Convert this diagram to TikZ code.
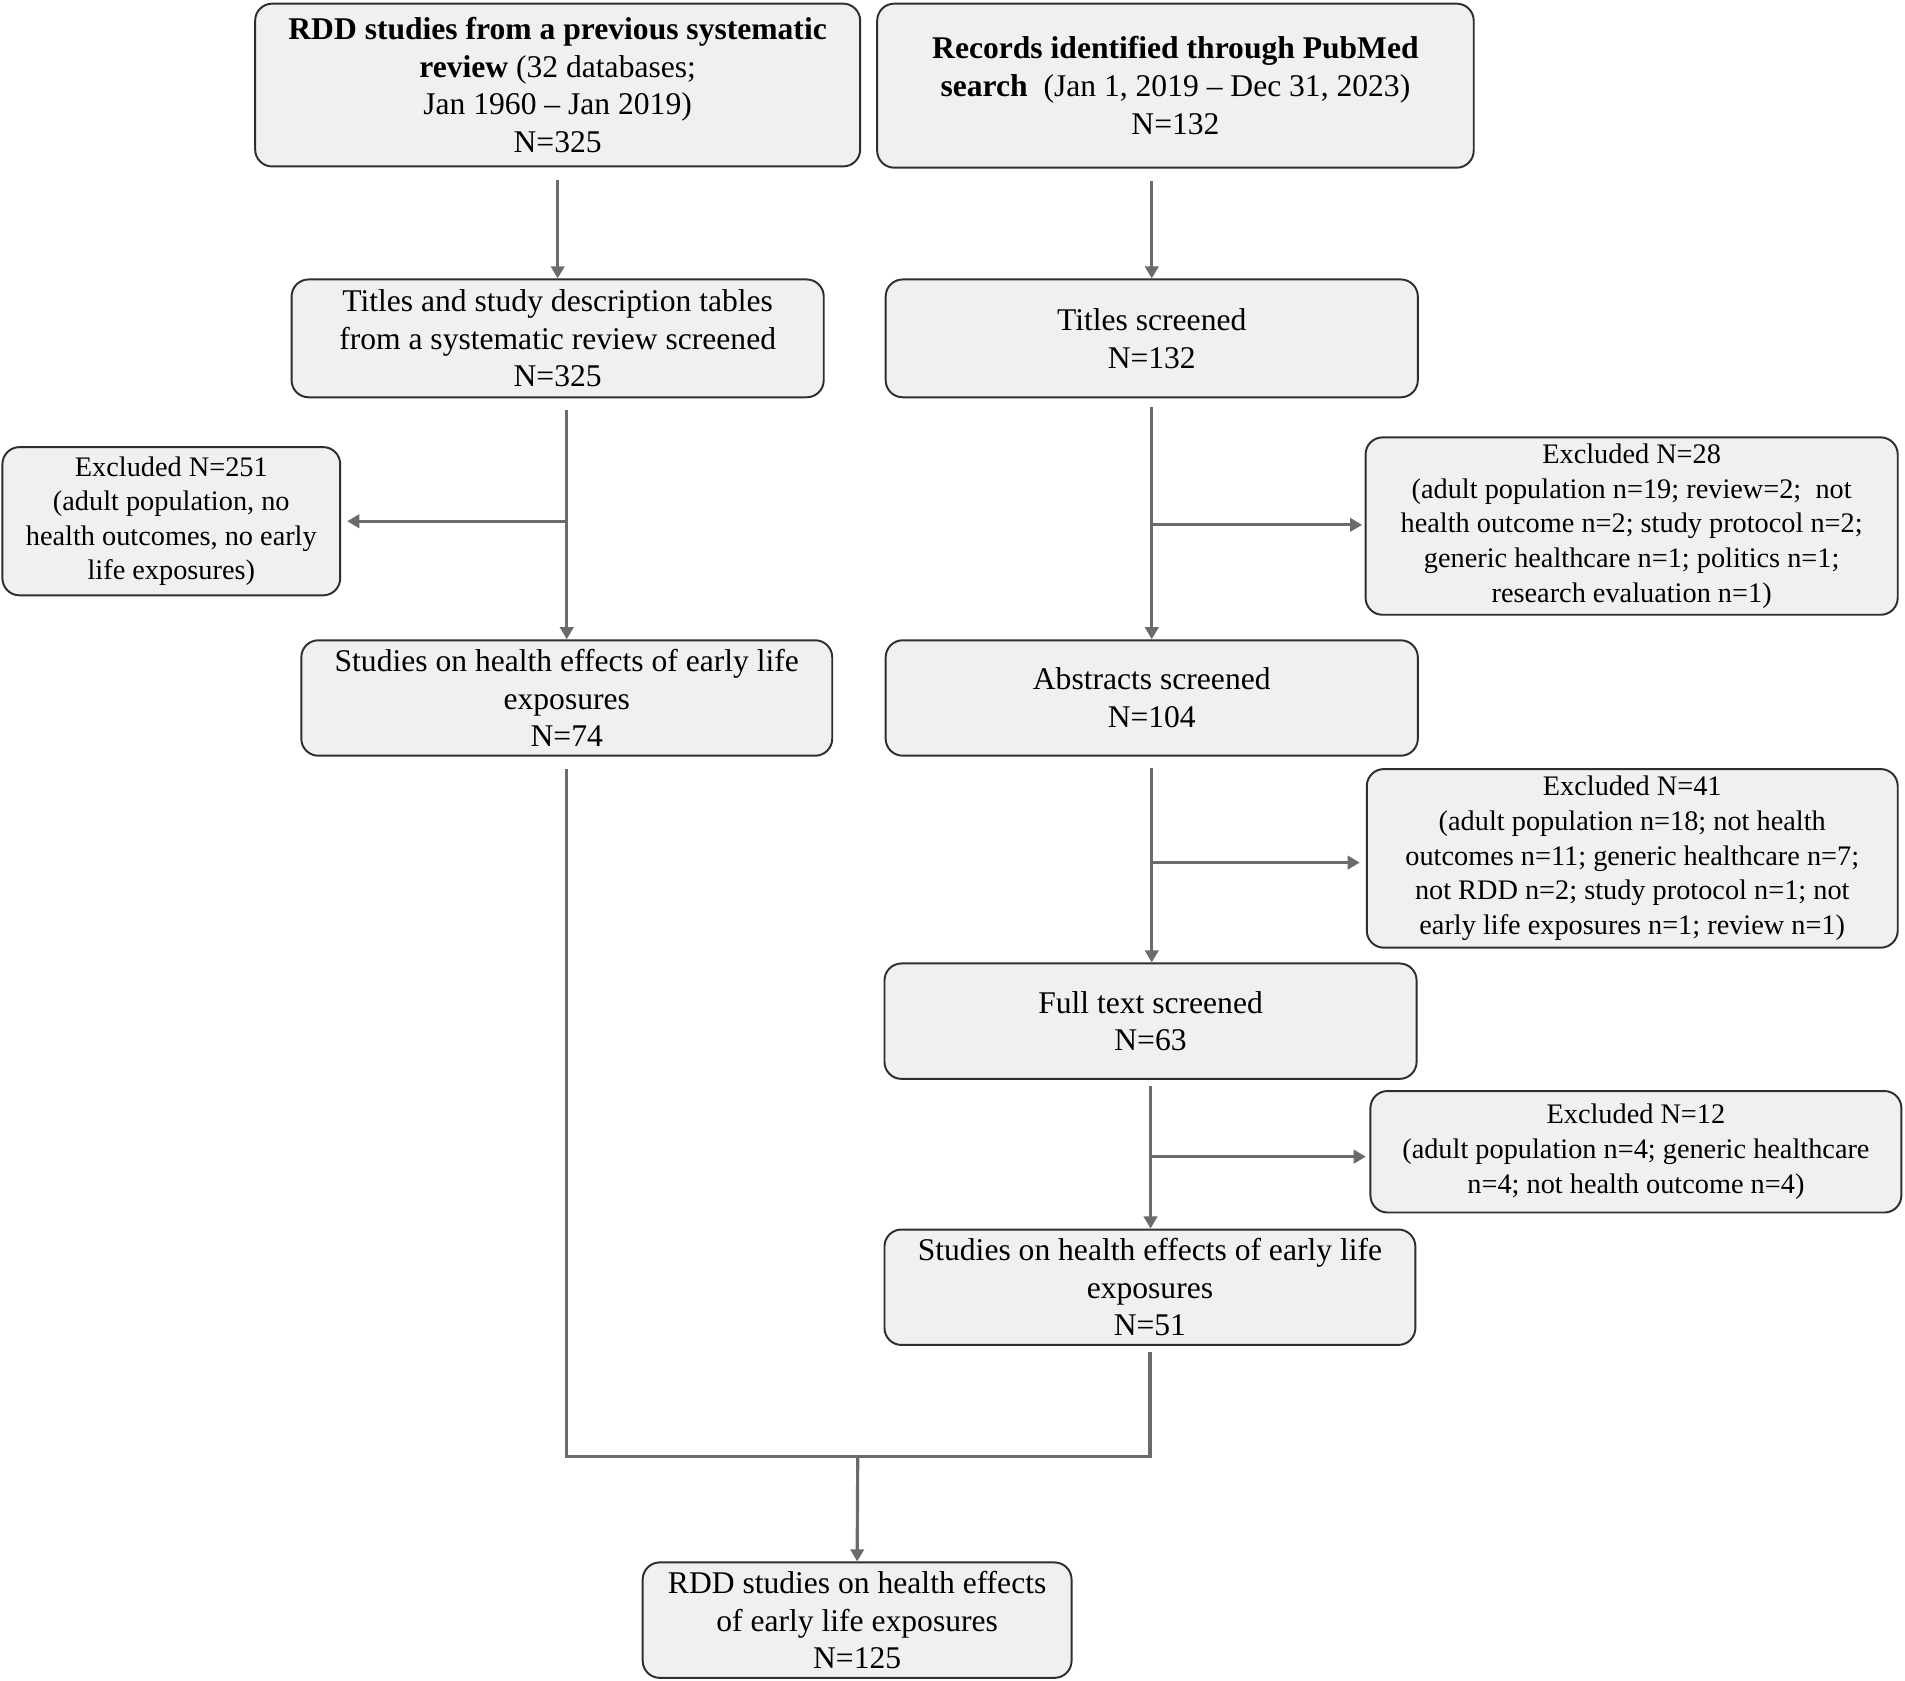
\documentclass[tikz,border=0pt]{standalone}
\usepackage{fontspec}
\setmainfont{Liberation Serif}
\usetikzlibrary{arrows.meta,calc}
\begin{document}
\begin{tikzpicture}[x=0.5pt,y=-0.5pt,
  box/.style={draw=black!82, line width=0.8pt, fill=black!6, rounded corners=7pt,
    align=center, inner sep=0pt, font=\fontsize{13}{15.5}\selectfont},
  exbox/.style={box, font=\fontsize{11.65}{14.25}\selectfont},
  ln/.style={draw=black!58, line width=1.3pt},
  arr/.style={ln, -{Triangle[width=5.5pt,length=5pt]}}]
\useasboundingbox (0,0) rectangle (1568,1383.6);

\node[box, minimum width=249pt, minimum height=67pt] (b1) at (459,70)
  {\textbf{RDD studies from a previous systematic}\\\textbf{review} (32 databases;\\Jan 1960 – Jan 2019)\\N=325};
\node[box, minimum width=245.5pt, minimum height=67.5pt] (b2) at (967.5,70.5)
  {\textbf{Records identified through PubMed}\\\textbf{search}\ \ (Jan 1, 2019 – Dec 31, 2023)\\N=132};
\node[box, minimum width=219pt, minimum height=48.5pt] (b3) at (459,278.5)
  {Titles and study description tables\\from a systematic review screened\\N=325};
\node[box, minimum width=219pt, minimum height=48.5pt] (b4) at (948,278.5)
  {Titles screened\\N=132};
\node[exbox, minimum width=139pt, minimum height=61pt] (e1) at (141,429)
  {Excluded N=251\\(adult population, no\\health outcomes, no early\\life exposures)};
\node[box, minimum width=218.5pt, minimum height=47.5pt] (b5) at (466.5,574.5)
  {Studies on health effects of early life\\exposures\\N=74};
\node[exbox, minimum width=219pt, minimum height=73pt] (e2) at (1343,433)
  {Excluded N=28\\(adult population n=19; review=2;\ \ not\\health outcome n=2; study protocol n=2;\\generic healthcare n=1; politics n=1;\\research evaluation n=1)};
\node[box, minimum width=219pt, minimum height=47.5pt] (abs) at (948,574.5)
  {Abstracts screened\\N=104};
\node[exbox, minimum width=218.5pt, minimum height=73.5pt] (e3) at (1343.5,706.5)
  {Excluded N=41\\(adult population n=18; not health\\outcomes n=11; generic healthcare n=7;\\not RDD n=2; study protocol n=1; not\\early life exposures n=1; review n=1)};
\node[box, minimum width=219pt, minimum height=47.5pt] (full) at (947,840.5)
  {Full text screened\\N=63};
\node[exbox, minimum width=218.5pt, minimum height=50pt] (e4) at (1346.5,948)
  {Excluded N=12\\(adult population n=4; generic healthcare\\n=4; not health outcome n=4)};
\node[box, minimum width=218.5pt, minimum height=47.5pt] (s51) at (946.5,1059.5)
  {Studies on health effects of early life\\exposures\\N=51};
\node[box, minimum width=176.5pt, minimum height=47.5pt] (fin) at (705.5,1333.5)
  {RDD studies on health effects\\of early life exposures\\N=125};

% left column
\draw[arr, shorten <=5pt] (b1) -- (b3);
\draw[arr, shorten <=5pt] (b5.north |- b3.south) -- (b5.north);
\coordinate (j1) at (465,429);
\draw[arr, shorten >=2.5pt] (j1) -- (e1.east);

% right column
\draw[arr, shorten <=5pt] (b4.north |- b2.south) -- (b4.north);
\draw[arr, shorten <=3.5pt] (b4) -- (abs);
\coordinate (j2) at (948,432);
\draw[arr, shorten >=1pt] (j2) -- (j2 -| e2.west);
\draw[arr, shorten <=4.5pt] (abs.south) -- (abs.south |- full.north);
\coordinate (j3) at (948,710);
\draw[arr, shorten >=2.5pt] (j3) -- (j3 -| e3.west);
\draw[arr, shorten <=2.5pt] (full.south) -- (full.south |- s51.north);
\coordinate (j4) at (947,952);
\draw[arr, shorten >=1.5pt] (j4) -- (j4 -| e4.west);

% merge
\coordinate (m) at (706,1199);
\draw[ln, shorten <=5pt] (b5.south) |- (m);
\draw[ln, shorten <=2.5pt] (s51.south) |- (m);
\draw[arr] (m) -- (fin.north);
\end{tikzpicture}
\end{document}
